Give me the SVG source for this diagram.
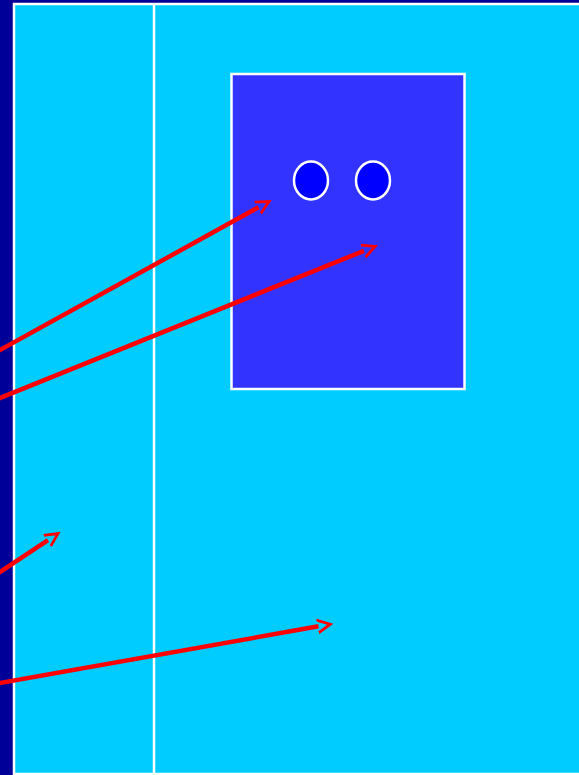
<svg xmlns="http://www.w3.org/2000/svg" width="579" height="775" viewBox="0 0 579 775">
<style>
.arrow{stroke:#ff0000;stroke-width:4.5;fill:none;marker-end:url(#head)}
.wl{stroke:#ffffff;stroke-width:2.5}
</style>
<defs>
<marker id="head" viewBox="0 0 16 16" refX="1" refY="8" markerWidth="16" markerHeight="16" markerUnits="userSpaceOnUse" orient="auto">
<path d="M0,1.5 L13,8 L0,14.5" fill="none" stroke="#ff0000" stroke-width="2.8"/>
</marker>
</defs>
<rect x="0" y="0" width="579" height="775" fill="#000099"/>
<g id="field">
<rect x="14" y="4" width="570" height="770" fill="#00ccff" class="wl"/>
<line x1="154" y1="4" x2="154" y2="775" class="wl"/>
</g>
<g id="box">
<rect x="231.5" y="74" width="233" height="315" fill="#3333ff" class="wl"/>
</g>
<g id="eye1"><ellipse cx="311" cy="180.5" rx="17" ry="19" fill="#0000ff" class="wl"/></g>
<g id="eye2"><ellipse cx="373" cy="180.5" rx="17" ry="19" fill="#0000ff" class="wl"/></g>
<g id="connectors">
<line x1="-10" y1="355.5" x2="258.5" y2="207.3" class="arrow"/>
<line x1="-10" y1="402" x2="364" y2="250.8" class="arrow"/>
<line x1="-10" y1="578.6" x2="48" y2="540.2" class="arrow"/>
<line x1="-10" y1="684.8" x2="318.5" y2="626.3" class="arrow"/>
</g>
</svg>
